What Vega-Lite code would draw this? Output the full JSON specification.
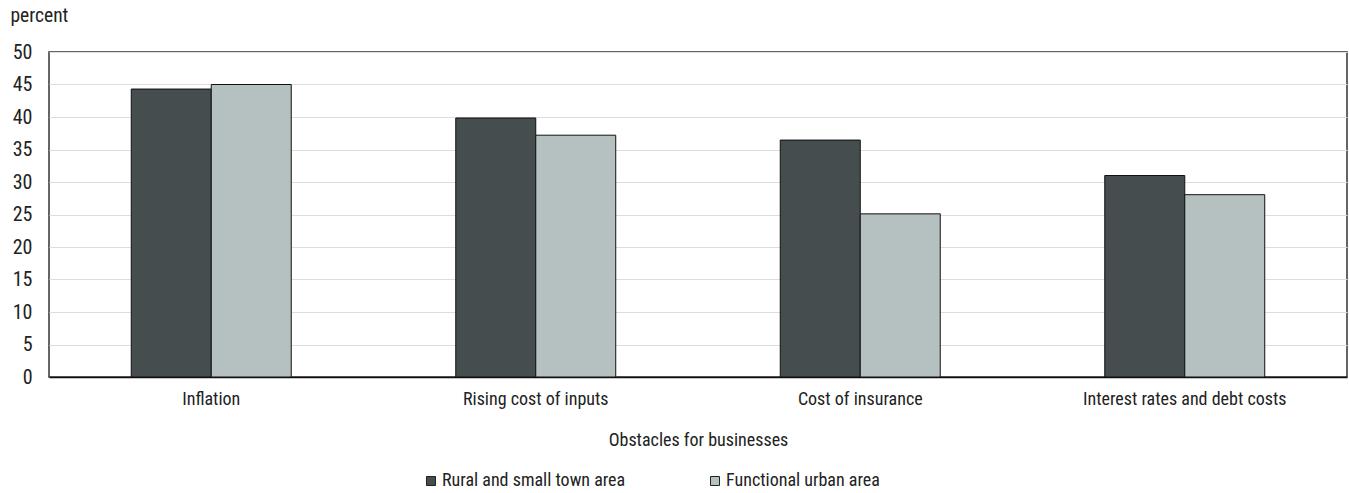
{
  "$schema": "https://vega.github.io/schema/vega-lite/v6.json",
  "autosize": {"type": "none"},
  "padding": {"left": 49, "top": 52, "right": 2, "bottom": 116},
  "width": 1298,
  "height": 325,
  "background": "white",
  "config": {
    "font": "Roboto Condensed, Roboto, sans-serif",
    "view": {"stroke": "#333333", "strokeWidth": 1.5},
    "axis": {"labelFont": "Roboto Condensed, Roboto, sans-serif", "titleFont": "Roboto Condensed, Roboto, sans-serif", "labelColor": "#222222", "titleColor": "#222222", "titleFontWeight": "normal"},
    "legend": {"labelFont": "Roboto Condensed, Roboto, sans-serif"}
  },
  "data": {
    "values": [
      {"obstacle": "Inflation", "area": "Rural and small town area", "value": 44.3},
      {"obstacle": "Inflation", "area": "Functional urban area", "value": 45.0},
      {"obstacle": "Rising cost of inputs", "area": "Rural and small town area", "value": 39.85},
      {"obstacle": "Rising cost of inputs", "area": "Functional urban area", "value": 37.2},
      {"obstacle": "Cost of insurance", "area": "Rural and small town area", "value": 36.45},
      {"obstacle": "Cost of insurance", "area": "Functional urban area", "value": 25.1},
      {"obstacle": "Interest rates and debt costs", "area": "Rural and small town area", "value": 31.0},
      {"obstacle": "Interest rates and debt costs", "area": "Functional urban area", "value": 28.05}
    ]
  },
  "mark": {"type": "bar", "stroke": "#111111", "strokeWidth": 1},
  "encoding": {
    "x": {
      "field": "obstacle",
      "type": "nominal",
      "sort": ["Inflation", "Rising cost of inputs", "Cost of insurance", "Interest rates and debt costs"],
      "scale": {"paddingInner": 0.507, "paddingOuter": 0.2535},
      "axis": {
        "title": "Obstacles for businesses",
        "labelAngle": 0,
        "labelFontSize": 18,
        "titleFontSize": 18,
        "labelLimit": 400,
        "labelPadding": 13,
        "titlePadding": 23,
        "ticks": false,
        "domainColor": "#111111",
        "domainWidth": 1.5
      }
    },
    "xOffset": {
      "field": "area",
      "type": "nominal",
      "sort": ["Rural and small town area", "Functional urban area"],
      "scale": {"paddingInner": 0, "paddingOuter": 0}
    },
    "y": {
      "field": "value",
      "type": "quantitative",
      "scale": {"domain": [0, 50], "nice": false},
      "axis": {
        "title": "percent",
        "titleAngle": 0,
        "titleAlign": "left",
        "titleBaseline": "bottom",
        "titleX": -39,
        "titleY": -27,
        "titleFontSize": 19.5,
        "labelFontSize": 20,
        "labelPadding": 17,
        "values": [0, 5, 10, 15, 20, 25, 30, 35, 40, 45, 50],
        "ticks": false,
        "domain": false,
        "gridColor": "#dddddd",
        "gridWidth": 1
      }
    },
    "fill": {
      "field": "area",
      "type": "nominal",
      "sort": ["Rural and small town area", "Functional urban area"],
      "scale": {"domain": ["Rural and small town area", "Functional urban area"], "range": ["#454d4f", "#b5c0c0"]},
      "legend": {
        "title": null,
        "orient": "none",
        "legendX": 373,
        "legendY": 420,
        "direction": "horizontal",
        "columns": 2,
        "columnPadding": 80,
        "symbolType": "square",
        "symbolSize": 81,
        "symbolStrokeColor": "#222222",
        "symbolStrokeWidth": 1,
        "labelFontSize": 18,
        "labelColor": "#222222",
        "labelOffset": 2,
        "labelLimit": 300
      }
    }
  }
}
